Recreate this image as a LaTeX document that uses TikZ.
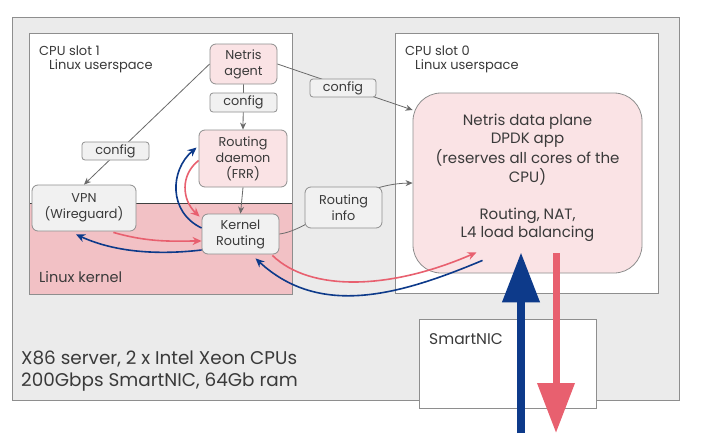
\documentclass[tikz,border=0pt]{standalone}
\usepackage{fontspec}
\setmainfont{Poppins}
\usetikzlibrary{arrows.meta,calc}
\definecolor{outerbg}{HTML}{EBEBEB}
\definecolor{bordergray}{HTML}{8E8E8E}
\definecolor{kernelbg}{HTML}{F2C1C5}
\definecolor{lightpink}{HTML}{FAE3E5}
\definecolor{lightgraynode}{HTML}{F1F1F1}
\definecolor{connc}{HTML}{6A6A6A}
\definecolor{bluec}{HTML}{0D3A8A}
\definecolor{redc}{HTML}{E8606F}
\definecolor{textc}{HTML}{3A3A3A}
\begin{document}
\begin{tikzpicture}[x=1pt,y=-1pt,
  every node/.style={text=textc},
  frame/.style={draw=bordergray, line width=0.8pt},
  nodefont/.style={font=\fontsize{12.8}{16}\selectfont},
  pinkbox/.style={draw=bordergray, line width=0.8pt, fill=lightpink, rounded corners=6pt, align=center, inner sep=0pt, nodefont},
  graybox/.style={draw=bordergray, line width=0.8pt, fill=lightgraynode, rounded corners=6pt, align=center, inner sep=0pt, nodefont},
  labelbox/.style={draw=bordergray, line width=0.8pt, fill=lightgraynode, rounded corners=3pt, align=center, inner sep=0pt, nodefont},
  conn/.style={draw=connc, line width=0.8pt, -{Stealth[length=7pt,width=6pt]}},
  redarr/.style={draw=redc, line width=1.6pt, -{Stealth[length=9pt,width=8pt]}},
  bluearr/.style={draw=bluec, line width=1.6pt, -{Stealth[length=9pt,width=8pt]}},
  headtext/.style={anchor=west, inner sep=0pt, font=\fontsize{13}{16}\selectfont}
]
\useasboundingbox (0,0) rectangle (711,439);
\fill[white] (0,0) rectangle (711,439);

% server frame
\draw[frame, fill=outerbg] (12,17) rectangle (679,400);

% CPU slot 1
\fill[white] (29,33) rectangle (292,203);
\fill[kernelbg] (29,203) rectangle (292,294);
\draw[black!75, line width=0.8pt] (29,203) -- (292,203);
\draw[frame] (29,33) rectangle (292,294);

% CPU slot 0
\draw[frame, fill=white] (395,33) rectangle (658,293);

% SmartNIC
\draw[frame, fill=white] (419,319) rectangle (596,408);
\node[anchor=west, inner sep=0pt, font=\fontsize{15.5}{18}\selectfont] (nic) at (429,339) {SmartNIC};

% headings
\node[headtext] (c1) at (39,51) {CPU slot 1};
\node[headtext] (u1) at (49,66) {Linux userspace};
\node[headtext] (c0) at (405,51) {CPU slot 0};
\node[headtext] (u0) at (415,66) {Linux userspace};
\node[anchor=west, inner sep=0pt, font=\fontsize{14.5}{17}\selectfont] (lk) at (39,277) {Linux kernel};
\node[anchor=west, inner sep=0pt, align=left, font=\fontsize{18.4}{21.7}\selectfont] (srv) at (21,371)
  {X86 server, 2 x Intel Xeon CPUs\\200Gbps SmartNIC, 64Gb ram};

% main nodes
\node[pinkbox, minimum width=67pt, minimum height=40pt] (agent) at (243.5,64) {Netris\\agent};
\node[pinkbox, minimum width=88pt, minimum height=57pt] (daemon) at (243,158.5) {Routing\\daemon\\(FRR)};
\node[graybox, minimum width=77pt, minimum height=40pt] (kernel) at (240.5,234) {Kernel\\Routing};
\node[graybox, minimum width=104pt, minimum height=46pt] (vpn) at (84,208) {VPN\\(Wireguard)};
\node[draw=bordergray, line width=0.8pt, fill=lightpink, rounded corners=28pt, align=center, inner sep=0pt,
      minimum width=229pt, minimum height=180pt, font=\fontsize{15}{18.2}\selectfont] (dp) at (527.5,183)
  {\raisebox{0pt}[\height][\dimexpr\depth+10pt\relax]{\begin{tabular}{@{}c@{}}Netris data plane\\DPDK app\\(reserves all cores of the\\CPU)\\ \\Routing, NAT,\\L4 load balancing\end{tabular}}};

% gray connectors (drawn under their labels)
\draw[conn] (agent.west) -- (vpn.north);
\draw[conn] (agent.south) -- (daemon.north);
\draw[conn] (agent.east) -- ($(dp.west)+(0,-73)$);
\draw[conn] (daemon.south) -- (kernel.north);
\draw[conn] (kernel.east) .. controls (312,230) and (352,184) .. (dp.west);

% connector labels
\node[labelbox, minimum width=67pt, minimum height=18pt] (cfgL) at (115.5,151) {config};
\node[labelbox, minimum width=67pt, minimum height=19pt] (cfgM) at (243.5,102.5) {config};
\node[labelbox, minimum width=66pt, minimum height=18pt] (cfgR) at (343,88) {config};
\node[graybox, minimum width=77pt, minimum height=41pt] (rinfo) at (343.5,207.5) {Routing\\info};

% coloured flows
\draw[bluearr] ($(kernel.west)+(0,-6)$) .. controls (168,212) and (170,170) .. ($(daemon.west)+(-2,-11)$);
\draw[redarr] ($(daemon.west)+(0,2)$) .. controls (180,175) and (182,200) .. ($(kernel.north west)+(-2,3)$);
\draw[redarr] ($(vpn.south east)+(-23,1)$) .. controls (150,243) and (175,241) .. ($(kernel.west)+(0,7)$);
\draw[bluearr] ($(kernel.west)+(0,16)$) .. controls (150,256) and (110,250) .. ($(vpn.south)+(-8,3)$);
\draw[redarr] ($(kernel.south east)+(-7,1)$) .. controls (310,292) and (390,290) .. ($(dp.south)+(-51,-21)$);
\draw[bluearr] ($(dp.south)+(-45,-13)$) .. controls (400,295) and (320,318) .. ($(kernel.south)+(15,4)$);

% big traffic arrows
\coordinate (inB) at (521,433);
\coordinate (outR) at (556,433);
\draw[draw=bluec, line width=7.5pt, -{Triangle[length=50pt,width=36pt]}] (inB) -- ($(dp.south)+(-6.5,-21)$);
\draw[draw=redc, line width=7pt, -{Triangle[length=50pt,width=36pt]}] ($(dp.south)+(28.5,-20)$) -- (outR);
\end{tikzpicture}
\end{document}
